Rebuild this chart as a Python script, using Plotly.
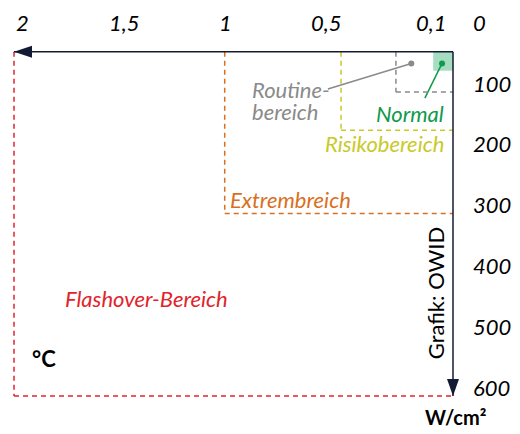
import plotly.graph_objects as go

# ---------------- data ----------------
zone_names = ["Normal", "Routinebereich", "Risikobereich", "Extrembreich", "Flashover-Bereich"]
zone_flux = [0.09, 0.26, 0.51, 1.04, 2.0]      # W/cm², outer limit of each zone
zone_temp = [65, 100, 163, 300, 600]           # °C, outer limit of each zone
axis_temp_start = 34                           # °C where the flux axis sits
point_flux = [0.05, 0.19]                      # marker dots (Normal, Routine)
point_temp = [53, 53]
x_tick_vals = [2, 1.5, 1, 0.5, 0.1]
x_tick_text = ["2", "1,5", "1", "0,5", "0,1"]
y_tick_vals = [0, 100, 200, 300, 400, 500, 600]
y_tick_text = ["0", "100", "200", "300", "400", "500", "600"]

# ---------------- styles ----------------
FONT = "Lato"
AXIS_COL = "#131a33"
zone_colors = ["#0f9a4c", "#8a8a8a", "#c9c92a", "#d9701f", "#e1242b"]
NORMAL_FILL = "#a6dcbf"
DASH = "5px,4px"
LBL = 22

fig = go.Figure()

# Normal zone: filled box
fig.add_shape(type="rect", xref="x", yref="y",
              x0=0, x1=zone_flux[0], y0=axis_temp_start, y1=zone_temp[0],
              fillcolor=NORMAL_FILL, line_width=0, layer="below")

# other zones: dashed left and bottom edges
for f, t, c in zip(zone_flux[1:], zone_temp[1:], zone_colors[1:]):
    fig.add_shape(type="line", xref="x", yref="y", x0=f, x1=f, y0=axis_temp_start, y1=t,
                  line=dict(color=c, width=1.5, dash=DASH))
    fig.add_shape(type="line", xref="x", yref="y", x0=f, x1=0, y0=t, y1=t,
                  line=dict(color=c, width=1.5, dash=DASH))

# axes lines with arrow heads
x_end = zone_flux[-1]
y_end = zone_temp[-1]
fig.add_shape(type="line", xref="x", yref="y", x0=0, x1=x_end, y0=axis_temp_start, y1=axis_temp_start,
              line=dict(color=AXIS_COL, width=1.5))
fig.add_shape(type="line", xref="x", yref="y", x0=0, x1=0, y0=axis_temp_start, y1=y_end,
              line=dict(color=AXIS_COL, width=1.5))
fig.add_shape(type="path", xref="x", yref="y", xsizemode="pixel", ysizemode="pixel",
              xanchor=x_end, yanchor=axis_temp_start,
              path="M0,0 L18,-6 L18,6 Z", fillcolor=AXIS_COL, line_width=0)
fig.add_shape(type="path", xref="x", yref="y", xsizemode="pixel", ysizemode="pixel",
              xanchor=0, yanchor=y_end,
              path="M0,0 L-6,17 L6,17 Z", fillcolor=AXIS_COL, line_width=0)

# leader lines from the dots to their labels
leader_end_flux = [0.128, 0.57]
leader_end_temp = [110, 95]
for i, c in enumerate(zone_colors[:2]):
    fig.add_trace(go.Scatter(x=[point_flux[i], leader_end_flux[i]], y=[point_temp[i], leader_end_temp[i]],
                             mode="lines", line=dict(color=c, width=1.5), hoverinfo="skip"))
    fig.add_trace(go.Scatter(x=[point_flux[i]], y=[point_temp[i]], mode="markers",
                             marker=dict(color=c, size=6), hoverinfo="skip"))

# ---------------- text ----------------
def ann(text, x, y, color="black", size=LBL, xanchor="center", yanchor="middle",
        italic=True, bold=False, align="left", angle=0, xshift=0, yshift=0):
    fig.add_annotation(text=text, x=x, y=y, xref="x", yref="y", showarrow=False,
                       xanchor=xanchor, yanchor=yanchor, align=align, textangle=angle,
                       xshift=xshift, yshift=yshift,
                       font=dict(family=FONT, size=size, color=color,
                                 style="italic" if italic else "normal",
                                 weight="bold" if bold else "normal"))

# x tick labels (sit on the 0 °C row)
x_anchor = ["left", "center", "right", "right", "center"]
for v, t, a in zip(x_tick_vals, x_tick_text, x_anchor):
    ann(t, v, y_tick_vals[0], xanchor=a, yshift=9)
# y tick labels (left aligned right of the axis, baseline on the value)
for v, t in zip(y_tick_vals, y_tick_text):
    ann(t, 0, v, xanchor="left", xshift=18, yshift=9)

ann("Routine-", 0.925, 96, color=zone_colors[1], xanchor="left")
ann("bereich", 0.925, 132, color=zone_colors[1], xanchor="left")
ann(zone_names[0], 0.032, 135, color=zone_colors[0], xanchor="right")
ann(zone_names[2], 0.032, 184, color=zone_colors[2], xanchor="right")
ann(zone_names[3], 1.025, 277, color=zone_colors[3], xanchor="left")
ann(zone_names[4], 1.777, 440, color=zone_colors[4], xanchor="left")
ann("°C", 1.927, 538, xanchor="left", italic=False, bold=True, size=22)
ann("W/cm²", 0.137, 634, xanchor="left", italic=False, bold=True, size=20)
ann("Grafik: OWID", 0.082, 431, angle=-90, italic=False, size=22)

fig.update_layout(
    width=512, height=426,
    margin=dict(l=0, r=0, t=0, b=0),
    paper_bgcolor="white", plot_bgcolor="white",
    showlegend=False,
    xaxis=dict(range=[2.02733, -0.30524], visible=False, fixedrange=True),
    yaxis=dict(range=[662.5, -38.158], visible=False, fixedrange=True),
)

fig.write_html("out.html")
